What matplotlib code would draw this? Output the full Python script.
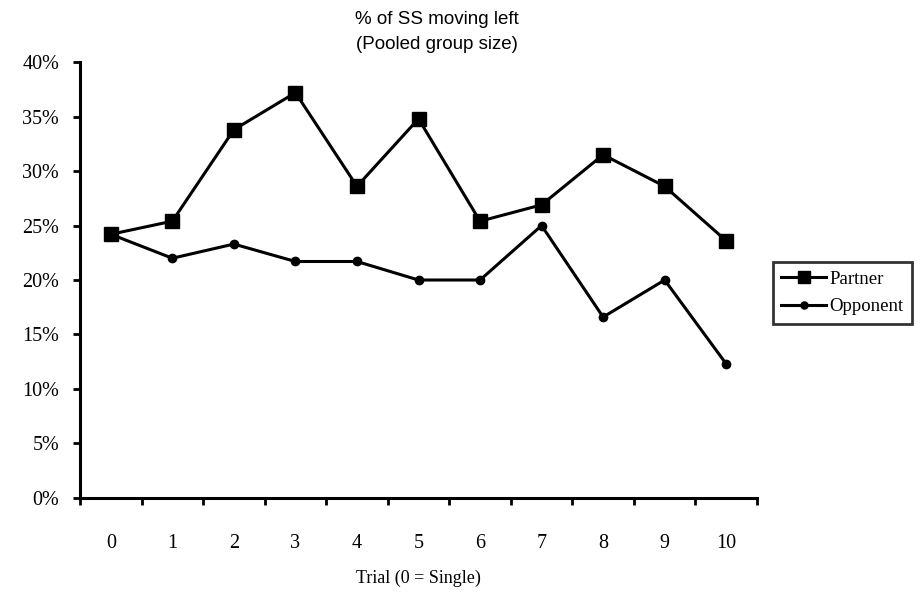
import numpy as np
import matplotlib.pyplot as plt
from matplotlib.ticker import FixedLocator, NullFormatter

trials = list(range(11))
trial_labels = [str(t) for t in trials]
partner = [24.2, 25.4, 33.8, 37.2, 28.6, 34.8, 25.4, 26.9, 31.5, 28.6, 23.6]
opponent = [24.2, 22.0, 23.3, 21.7, 21.7, 20.0, 20.0, 25.0, 16.6, 20.0, 12.3]
y_ticks = [0, 5, 10, 15, 20, 25, 30, 35, 40]

plt.rcParams['font.family'] = ['Liberation Serif', 'DejaVu Serif']

fig = plt.figure(figsize=(9.21, 5.92), dpi=100)
ax = fig.add_axes([0.0869, 0.159, 0.735, 0.736])

ax.plot(trials, partner, color='black', lw=2.2, marker='s', ms=10, label='Partner')
ax.plot(trials, opponent, color='black', lw=2.2, marker='o', ms=6, label='Opponent')

ax.set_xlim(-0.5, 10.5)
ax.set_ylim(0, 40)
ax.set_yticks(y_ticks)
ax.set_yticklabels([f'{v}%' for v in y_ticks], fontsize=14.5)

# category axis: tick marks between categories, labels on categories
ax.xaxis.set_major_locator(FixedLocator(np.arange(-0.5, 11, 1)))
ax.xaxis.set_major_formatter(NullFormatter())
ax.xaxis.set_minor_locator(FixedLocator(trials))
ax.set_xticklabels(trial_labels, minor=True, fontsize=14.5)
ax.tick_params(axis='x', which='minor', length=0, pad=26)
ax.tick_params(axis='x', which='major', direction='out', length=5, width=2)
ax.tick_params(axis='y', direction='out', length=5, width=2, pad=10)

for s in ['top', 'right']:
    ax.spines[s].set_visible(False)
for s in ['left', 'bottom']:
    ax.spines[s].set_linewidth(2.2)

ax.set_xlabel('Trial (0 = Single)', fontsize=13, labelpad=12)
fig.text(0.474, 0.946, '% of SS moving left\n(Pooled group size)', ha='center', va='center',
         fontsize=13.5, family=['Liberation Sans', 'DejaVu Sans'], linespacing=1.55)

leg = fig.legend(loc='upper left', bbox_to_anchor=(0.839, 0.557), fontsize=13.5, frameon=True,
                 fancybox=False, edgecolor='black', handlelength=2.4, handletextpad=0.15,
                 borderpad=0.45, labelspacing=0.55, borderaxespad=0)
leg.get_frame().set_linewidth(2)
for h in leg.legend_handles:
    h.set_markersize(h.get_markersize() * 0.85)

fig.savefig('out.png', dpi=100)
